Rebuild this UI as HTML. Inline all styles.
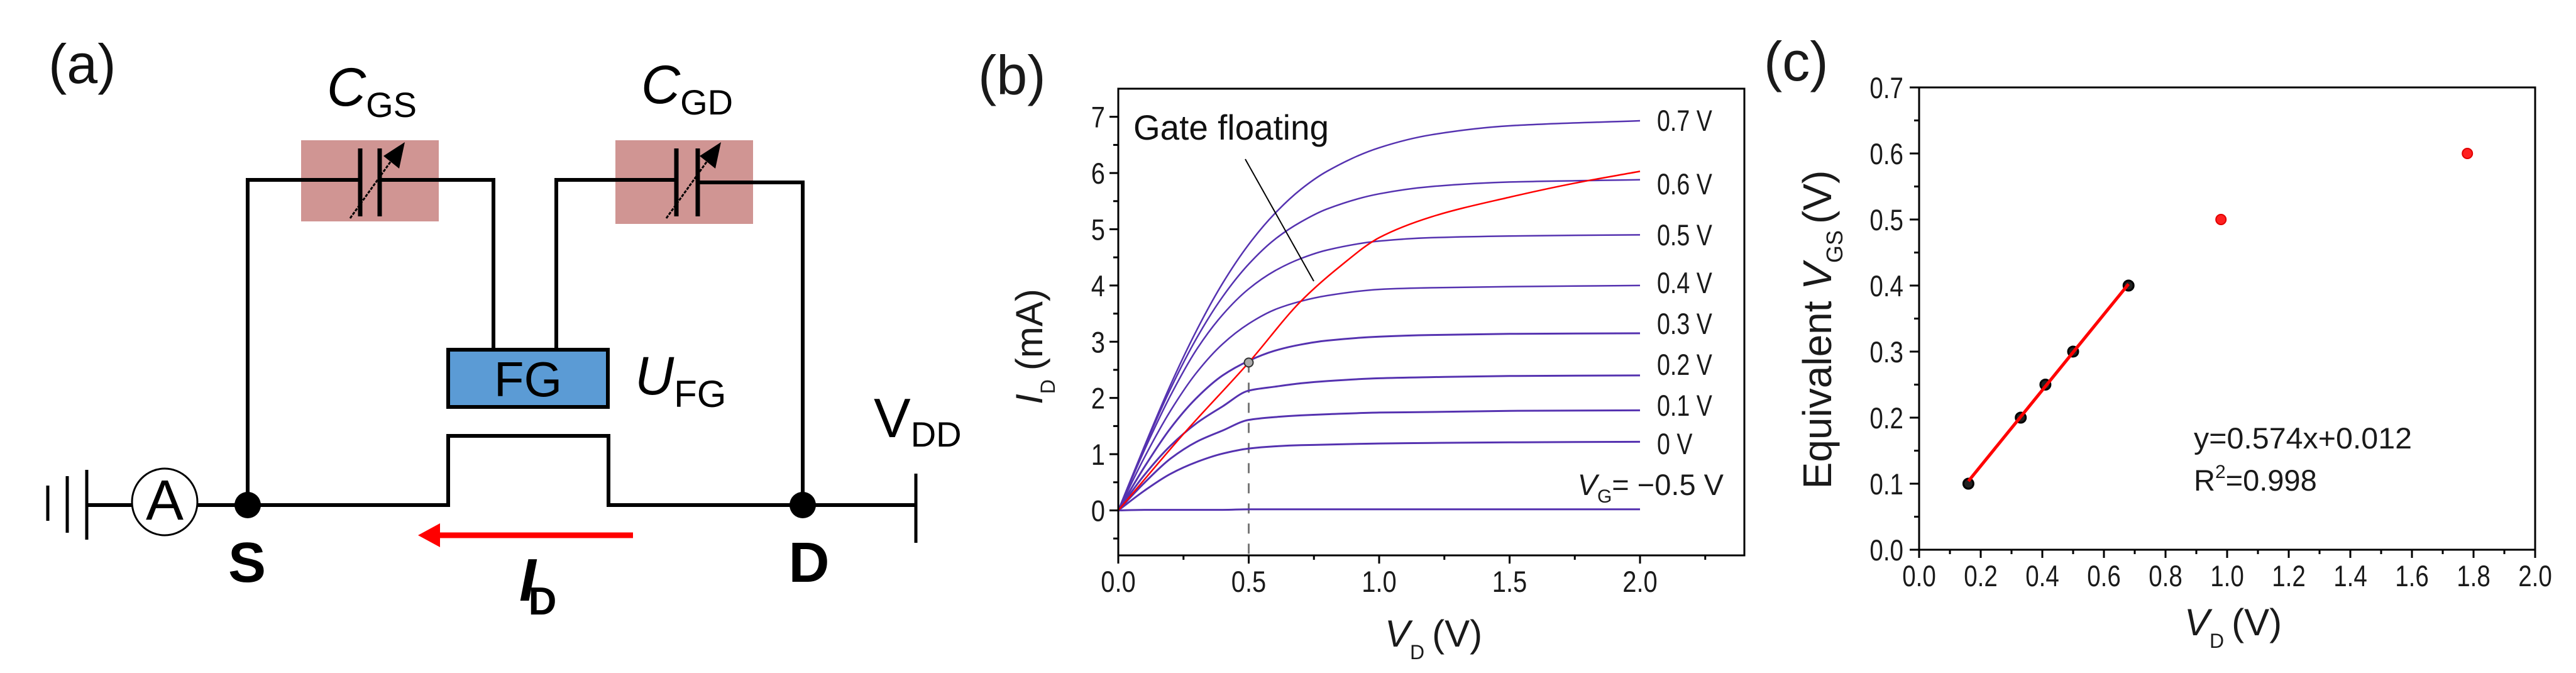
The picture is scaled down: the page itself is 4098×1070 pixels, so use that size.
<!DOCTYPE html>
<html><head><meta charset="utf-8"><style>
html,body{margin:0;padding:0;background:#fff;}
svg{display:block;font-family:"Liberation Sans",Arial,sans-serif;}
</style></head><body>
<svg id="fig" width="4098" height="1070" viewBox="0 0 4098 1070" xmlns="http://www.w3.org/2000/svg">
<g id="panel-a" stroke="#000" fill="none">
  <text x="77" y="132" font-size="88" fill="#111" stroke="none">(a)</text>
  <rect x="479" y="223" width="219" height="129" fill="#d09593" stroke="none"/>
  <rect x="979" y="223" width="219" height="133" fill="#d09593" stroke="none"/>
  <g stroke-width="6">
    <polyline points="394,803 394,286 573,286"/>
    <polyline points="604,286 785,286 785,556"/>
    <polyline points="885,556 885,286 1076,286"/>
    <polyline points="1110,290 1277,290 1277,803"/>
    <polyline points="139,803 713,803 713,693 968,693 968,803 1457,803"/>
  </g>
  <g stroke-width="7">
    <line x1="573" y1="236" x2="573" y2="344"/><line x1="604" y1="236" x2="604" y2="344"/>
  </g>
  <line x1="557" y1="347" x2="625" y2="252" stroke-width="3" stroke-dasharray="5,2"/>
  <polygon points="644,226 610,248 635,268" fill="#000" stroke="none"/>
  <g stroke-width="7">
    <line x1="1076" y1="236" x2="1076" y2="344"/><line x1="1110" y1="236" x2="1110" y2="344"/>
  </g>
  <line x1="1060" y1="347" x2="1128" y2="252" stroke-width="3" stroke-dasharray="5,2"/>
  <polygon points="1147,226 1113,248 1138,268" fill="#000" stroke="none"/>
  <rect x="713" y="556" width="254" height="91" fill="#5b9bd5" stroke-width="6"/>
  <text x="840" y="630" font-size="78" fill="#000" stroke="none" text-anchor="middle">FG</text>
  <g stroke-width="5">
    <line x1="76" y1="772" x2="76" y2="828"/><line x1="107" y1="757" x2="107" y2="847"/><line x1="138" y1="747" x2="138" y2="858"/>
  </g>
  <ellipse cx="262" cy="798" rx="52" ry="53" fill="#fff" stroke-width="3"/>
  <text x="262" y="826" font-size="90" fill="#000" stroke="none" text-anchor="middle">A</text>
  <circle cx="394" cy="803" r="21" fill="#000" stroke="none"/>
  <circle cx="1277" cy="803" r="21" fill="#000" stroke="none"/>
  <line x1="1457" y1="753" x2="1457" y2="863" stroke-width="5"/>
  <line x1="1007" y1="851" x2="695" y2="851" stroke="#ff0000" stroke-width="9"/>
  <polygon points="665,851 700,832 700,870" fill="#ff0000" stroke="none"/>
  <g fill="#000" stroke="none">
    <text x="393" y="925" font-size="90" font-weight="bold" text-anchor="middle">S</text>
    <text x="1287" y="925" font-size="90" font-weight="bold" text-anchor="middle">D</text>
    <text x="826" y="955" font-size="96" font-style="italic" font-weight="bold">I<tspan font-size="62" font-style="normal" dx="-12" dy="22">D</tspan></text>
    <text x="520" y="168" font-size="86" font-style="italic">C<tspan font-size="56" font-style="normal" dy="18">GS</tspan></text>
    <text x="1020" y="164" font-size="86" font-style="italic">C<tspan font-size="56" font-style="normal" dy="18">GD</tspan></text>
    <text x="1010" y="627" font-size="86" font-style="italic">U<tspan font-size="60" font-style="normal" dy="20">FG</tspan></text>
    <text x="1390" y="695" font-size="88">V<tspan font-size="56" dy="15">DD</tspan></text>
  </g>
</g>
<g id="panel-b"></g>
<g id="panel-c"></g>
</svg>
<script>
// ---------- Panel (b) data ----------
const bVd = [0,0.1,0.2,0.3,0.4,0.5,0.6,0.7,0.8,1.0,1.2,1.5,2.0];
const bGateLabels = ["0.7 V","0.6 V","0.5 V","0.4 V","0.3 V","0.2 V","0.1 V","0 V"];
const bCurve07 = [0,1.14,2.23,3.20,4.04,4.73,5.28,5.71,6.03,6.45,6.68,6.84,6.93];
const bCurve06 = [0,1.12,2.16,3.06,3.80,4.38,4.82,5.13,5.36,5.63,5.76,5.84,5.88];
const bCurve05 = [0,1.07,2.04,2.86,3.48,3.94,4.26,4.48,4.63,4.79,4.85,4.88,4.90];
const bCurve04 = [0,0.94,1.77,2.45,2.96,3.32,3.57,3.72,3.82,3.93,3.96,3.98,4.00];
const bCurve03 = [0,0.77,1.46,2.00,2.40,2.66,2.84,2.95,3.02,3.09,3.12,3.14,3.15];
const bCurve02 = [0,0.63,1.15,1.55,1.85,2.13,2.20,2.26,2.30,2.35,2.37,2.39,2.40];
const bCurve01 = [0,0.49,0.92,1.22,1.42,1.61,1.66,1.69,1.71,1.74,1.75,1.77,1.78];
const bCurve00 = [0,0.35,0.65,0.86,1.01,1.10,1.14,1.16,1.17,1.19,1.20,1.21,1.22];
const bCurveNeg = [0,0.01,0.01,0.01,0.01,0.02,0.02,0.02,0.02,0.02,0.02,0.02,0.02];
const bFloatVd = [0,0.25,0.5,0.7,0.85,1.0,1.2,1.5,1.75,2.0];
const bFloatId = [0,1.36,2.63,3.72,4.34,4.85,5.22,5.57,5.82,6.03];
const bMarkVd = [0.5];
const bMarkId = [2.63];
const bXTicks = ["0.0","0.5","1.0","1.5","2.0"];
const bYTicks = ["0","1","2","3","4","5","6","7"];
// ---------- Panel (c) data ----------
const cFitVd = [0.16,0.33,0.41,0.50,0.68];
const cFitVgs = [0.10,0.20,0.25,0.30,0.40];
const cRedVd = [0.98,1.78];
const cRedVgs = [0.50,0.60];
const cSlope = [0.574];
const cIntercept = [0.012];
const cXTicks = ["0.0","0.2","0.4","0.6","0.8","1.0","1.2","1.4","1.6","1.8","2.0"];
const cYTicks = ["0.0","0.1","0.2","0.3","0.4","0.5","0.6","0.7"];

const NS = "http://www.w3.org/2000/svg";
function mk(parent, tag, attrs){ const e=document.createElementNS(NS,tag); for(const k in attrs) e.setAttribute(k,attrs[k]); parent.appendChild(e); return e; }
function squeeze(el,f){ try{ const L=el.getComputedTextLength(); el.setAttribute('textLength',(L*f).toFixed(1)); el.setAttribute('lengthAdjust','spacingAndGlyphs'); }catch(e){} }
// monotone cubic (Fritsch-Carlson) in pixel space
function smooth(pts){
  const n=pts.length, dx=[], m=[], t=new Array(n);
  for(let i=0;i<n-1;i++){ dx[i]=pts[i+1][0]-pts[i][0]; m[i]=(pts[i+1][1]-pts[i][1])/dx[i]; }
  t[0]=m[0]; t[n-1]=m[n-2];
  for(let i=1;i<n-1;i++){
    if(m[i-1]*m[i]<=0) t[i]=0;
    else { const w1=2*dx[i]+dx[i-1], w2=dx[i]+2*dx[i-1]; t[i]=(w1+w2)/(w1/m[i-1]+w2/m[i]); }
  }
  let d="M"+pts[0][0].toFixed(1)+","+pts[0][1].toFixed(1);
  for(let i=0;i<n-1;i++){
    const h=dx[i]/3;
    d+=" C"+(pts[i][0]+h).toFixed(1)+","+(pts[i][1]+t[i]*h).toFixed(1)+" "+(pts[i+1][0]-h).toFixed(1)+","+(pts[i+1][1]-t[i+1]*h).toFixed(1)+" "+pts[i+1][0].toFixed(1)+","+pts[i+1][1].toFixed(1);
  }
  return d;
}
const TXT="#1a1a1a";

// ---------- Panel (b) ----------
(function(){
  const g=document.getElementById('panel-b');
  const X0=1779,X1=2775,Y0=883,Y1=141, xmin=0,xmax=2.4,ymin=-0.8,ymax=7.5;
  const sx=v=>X0+(v-xmin)/(xmax-xmin)*(X1-X0);
  const sy=v=>Y0-(v-ymin)/(ymax-ymin)*(Y0-Y1);
  let t=mk(g,'text',{x:1556,y:150,'font-size':88,fill:TXT});
  
  
  t.textContent='(b)';
  const curves=[bCurve07,bCurve06,bCurve05,bCurve04,bCurve03,bCurve02,bCurve01,bCurve00,bCurveNeg];
  const names=['curve-vg-0.7','curve-vg-0.6','curve-vg-0.5','curve-vg-0.4','curve-vg-0.3','curve-vg-0.2','curve-vg-0.1','curve-vg-0','curve-vg-neg0.5'];
  const dl=mk(g,'line',{x1:sx(bMarkVd[0]),y1:sy(bMarkId[0]),x2:sx(bMarkVd[0]),y2:Y0,stroke:'#777','stroke-width':3,'stroke-dasharray':'16,16'});
  
  
  curves.forEach((c,i)=>{
    const pts=c.map((v,j)=>[sx(bVd[j]),sy(v)]);
    const p=mk(g,'path',{d:smooth(pts),fill:'none',stroke:'#5532b0','stroke-width':i<4?2.5:3});
    
    
  });
  const fp=bFloatVd.map((v,j)=>[sx(v),sy(bFloatId[j])]);
  const rp=mk(g,'path',{d:smooth(fp),fill:'none',stroke:'#ff0000','stroke-width':2.5});
  
  
  const mc=mk(g,'circle',{cx:sx(bMarkVd[0]),cy:sy(bMarkId[0]),r:7,fill:'#aaa',stroke:'#333','stroke-width':2});
  
  
  const fr=mk(g,'rect',{x:X0,y:Y1,width:X1-X0,height:Y0-Y1,fill:'none',stroke:'#000','stroke-width':3});
  
  
  for(let v=-0.5;v<=7.01;v+=0.5){
    const major=Math.abs(v-Math.round(v))<1e-6;
    mk(g,'line',{x1:X0,x2:X0-(major?14:8),y1:sy(v),y2:sy(v),stroke:'#000','stroke-width':3});
  }
  bYTicks.forEach(s=>{
    const e=mk(g,'text',{x:1758,y:sy(parseFloat(s))+17,'font-size':47,'text-anchor':'end',fill:TXT});
    
    
    e.textContent=s; squeeze(e,0.85);
  });
  for(let v=0;v<=2.401;v+=0.25){
    const major=Math.abs(v*2-Math.round(v*2))<1e-6;
    mk(g,'line',{x1:sx(v),x2:sx(v),y1:Y0,y2:Y0+(major?13:7),stroke:'#000','stroke-width':3});
  }
  bXTicks.forEach(s=>{
    const e=mk(g,'text',{x:sx(parseFloat(s)),y:941,'font-size':47,'text-anchor':'middle',fill:TXT});
    
    
    e.textContent=s; squeeze(e,0.85);
  });
  const lblY=[208,309,390,466,531,596,661,722];
  bGateLabels.forEach((s,i)=>{
    const e=mk(g,'text',{x:2636,y:lblY[i],'font-size':47,fill:TXT});
    
    
    e.textContent=s; squeeze(e,0.8);
  });
  const vg=mk(g,'text',{x:2742,y:787,'font-size':47,'text-anchor':'end',fill:TXT});
  
  
  vg.innerHTML='<tspan font-style="italic">V</tspan><tspan font-size="30" dy="12">G</tspan><tspan dy="-12">= \u22120.5 V</tspan>';
  const an=mk(g,'text',{x:1803,y:222,'font-size':56,fill:'#111'});
  
  
  an.textContent='Gate floating'; an.setAttribute('textLength',311); an.setAttribute('lengthAdjust','spacingAndGlyphs');
  const al=mk(g,'line',{x1:1981,y1:253,x2:2090,y2:447,stroke:'#000','stroke-width':2});
  
  
  const xt=mk(g,'text',{x:2203,y:1028,'font-size':60,fill:TXT});
  
  
  xt.innerHTML='<tspan font-style="italic">V</tspan><tspan font-size="32" dy="20">D</tspan><tspan dy="-20" dx="12">(V)</tspan>';
  const yt=mk(g,'text',{x:0,y:0,'font-size':60,fill:TXT,'text-anchor':'middle',transform:'translate(1658,551) rotate(-90)'});
  
  
  yt.innerHTML='<tspan font-style="italic">I</tspan><tspan font-size="32" dy="20">D</tspan><tspan dy="-20" dx="14">(mA)</tspan>';
})();

// ---------- Panel (c) ----------
(function(){
  const g=document.getElementById('panel-c');
  const X0=3053,X1=4033,Y0=874,Y1=139, xmin=0,xmax=2.0,ymin=0,ymax=0.7;
  const sx=v=>X0+(v-xmin)/(xmax-xmin)*(X1-X0);
  const sy=v=>Y0-(v-ymin)/(ymax-ymin)*(Y0-Y1);
  let t=mk(g,'text',{x:2806,y:128,'font-size':88,fill:TXT});
  
  
  t.textContent='(c)';
  const fr=mk(g,'rect',{x:X0,y:Y1,width:X1-X0,height:Y0-Y1,fill:'none',stroke:'#000','stroke-width':3});
  
  
  for(let i=0;i<=14;i++){ const v=i*0.05; const major=i%2===0;
    mk(g,'line',{x1:X0,x2:X0-(major?15:8),y1:sy(v),y2:sy(v),stroke:'#000','stroke-width':3}); }
  cYTicks.forEach(s=>{
    const e=mk(g,'text',{x:3028,y:sy(parseFloat(s))+17,'font-size':47,'text-anchor':'end',fill:TXT});
    
    
    e.textContent=s; squeeze(e,0.82);
  });
  for(let i=0;i<=20;i++){ const v=i*0.1; const major=i%2===0;
    mk(g,'line',{x1:sx(v),x2:sx(v),y1:Y0,y2:Y0+(major?13:7),stroke:'#000','stroke-width':3}); }
  cXTicks.forEach(s=>{
    const e=mk(g,'text',{x:sx(parseFloat(s)),y:932,'font-size':47,'text-anchor':'middle',fill:TXT});
    
    
    e.textContent=s; squeeze(e,0.82);
  });
  cFitVd.forEach((v,i)=>{
    const c=mk(g,'circle',{cx:sx(v),cy:sy(cFitVgs[i]),r:8,fill:'#222',stroke:'#000','stroke-width':3});
    
    
  });
  const xa=cFitVd[0], xb=cFitVd[cFitVd.length-1];
  const fl=mk(g,'line',{x1:sx(xa),y1:sy(cSlope[0]*xa+cIntercept[0]),x2:sx(xb),y2:sy(cSlope[0]*xb+cIntercept[0]),stroke:'#ff0000','stroke-width':5});
  
  
  cRedVd.forEach((v,i)=>{
    const c=mk(g,'circle',{cx:sx(v),cy:sy(cRedVgs[i]),r:8,fill:'#ff2020',stroke:'#e00000','stroke-width':2});
    
    
  });
  const eq=mk(g,'text',{x:3490,y:713,'font-size':47,fill:TXT});
  
  
  eq.textContent='y='+cSlope[0].toFixed(3)+'x+'+cIntercept[0].toFixed(3);
  eq.setAttribute('textLength',347); eq.setAttribute('lengthAdjust','spacingAndGlyphs');
  const r2=mk(g,'text',{x:3490,y:780,'font-size':47,fill:TXT});
  
  
  r2.innerHTML='R<tspan font-size="30" dy="-20">2</tspan><tspan dy="20">=0.998</tspan>';
  const xt=mk(g,'text',{x:3475,y:1010,'font-size':60,fill:TXT});
  
  
  xt.innerHTML='<tspan font-style="italic">V</tspan><tspan font-size="32" dy="20">D</tspan><tspan dy="-20" dx="12">(V)</tspan>';
  const yt=mk(g,'text',{x:0,y:0,'font-size':64,fill:TXT,'text-anchor':'middle',transform:'translate(2913,524) rotate(-90)'});
  
  
  yt.innerHTML='Equivalent <tspan font-style="italic">V</tspan><tspan font-size="36" dy="18">GS</tspan><tspan dy="-18" dx="10">(V)</tspan>';
})();
</script>
</body></html>
